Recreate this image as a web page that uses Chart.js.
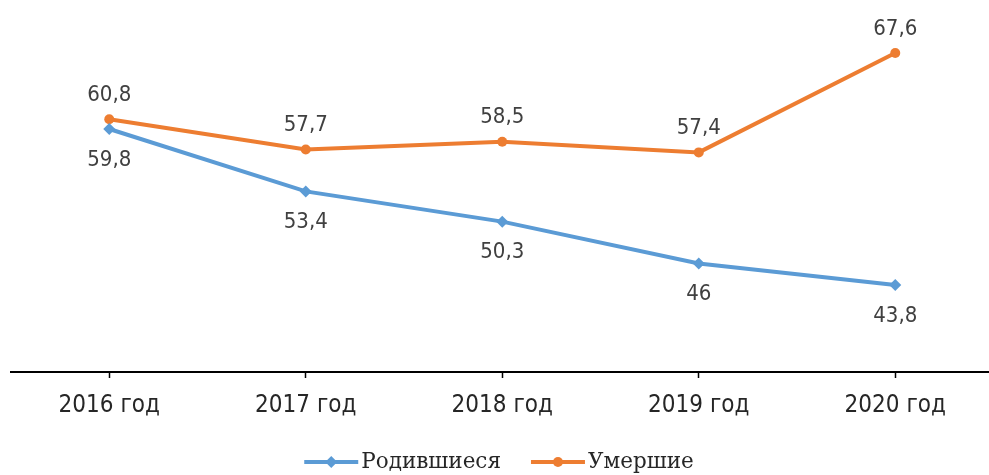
<!DOCTYPE html>
<html><head><meta charset="utf-8">
<script src="https://cdn.jsdelivr.net/npm/chart.js@4.4.0/dist/chart.umd.min.js"></script>
<style>html,body{margin:0;padding:0;background:#fff;overflow:hidden}#wrap{width:989px;height:475px;position:relative;overflow:hidden}</style>
</head><body><div id="wrap"><canvas id="c" width="1000" height="475"></canvas></div>
<script>
const categories = ['2016 год','2017 год','2018 год','2019 год','2020 год'];
const births = [59.8, 53.4, 50.3, 46, 43.8];
const deaths = [60.8, 57.7, 58.5, 57.4, 67.6];
const seriesNames = ['Родившиеся', 'Умершие'];
const BLUE = '#5B9BD5', ORANGE = '#ED7D31';
const SANS = '"DejaVu Sans Condensed","DejaVu Sans",sans-serif';
const fmt = v => String(v).replace('.', ',');

function drawMarker(ctx, style, r, x, y) {
  ctx.beginPath();
  if (style === 'rectRot') {
    ctx.moveTo(x, y - r); ctx.lineTo(x + r, y); ctx.lineTo(x, y + r); ctx.lineTo(x - r, y); ctx.closePath();
  } else {
    ctx.arc(x, y, r, 0, Math.PI * 2);
  }
  ctx.fill();
}

const labelPlugin = {
  id: 'valueLabels',
  afterDatasetsDraw(chart) {
    const ctx = chart.ctx;
    ctx.save();
    ctx.font = '22px ' + SANS;
    ctx.fillStyle = '#404040'; ctx.textAlign = 'center'; ctx.textBaseline = 'middle';
    chart.data.datasets.forEach((ds, i) => {
      const meta = chart.getDatasetMeta(i);
      meta.data.forEach((pt, j) => {
        const dy = i === 0 ? 31 : -24;
        ctx.fillText(fmt(ds.data[j]), pt.x, pt.y + dy);
      });
    });
    ctx.restore();
  }
};

const legendPlugin = {
  id: 'lineLegend',
  afterDraw(chart) {
    const ctx = chart.ctx;
    ctx.save();
    ctx.font = '21.5px "DejaVu Serif",serif';
    const sampleW = 54, gap = 3, itemGap = 30;
    const items = chart.data.datasets.map(ds => ({ ds, w: ctx.measureText(ds.label).width }));
    const total = items.reduce((s, it) => s + sampleW + gap + it.w, 0) + itemGap * (items.length - 1);
    let x = 499 - total / 2;
    const y = chart.height - 13;
    items.forEach(it => {
      ctx.strokeStyle = it.ds.borderColor; ctx.fillStyle = it.ds.borderColor; ctx.lineWidth = 4;
      ctx.beginPath(); ctx.moveTo(x, y); ctx.lineTo(x + sampleW, y); ctx.stroke();
      drawMarker(ctx, it.ds.pointStyle, it.ds.pointRadius, x + sampleW / 2, y);
      ctx.fillStyle = '#262626'; ctx.textAlign = 'left'; ctx.textBaseline = 'middle';
      ctx.fillText(it.ds.label, x + sampleW + gap, y);
      x += sampleW + gap + it.w + itemGap;
    });
    ctx.restore();
  }
};

new Chart(document.getElementById('c'), {
  type: 'line',
  data: {
    labels: categories,
    datasets: [
      { label: seriesNames[0], data: births, borderColor: BLUE, backgroundColor: BLUE, borderWidth: 4,
        pointStyle: 'rectRot', pointRadius: 6, pointBorderWidth: 0, tension: 0, clip: false },
      { label: seriesNames[1], data: deaths, borderColor: ORANGE, backgroundColor: ORANGE, borderWidth: 4,
        pointStyle: 'circle', pointRadius: 5, pointBorderWidth: 0, tension: 0, clip: false }
    ]
  },
  options: {
    responsive: false, animation: false,
    layout: { autoPadding: false, padding: { left: 11, right: 6.5, top: 0, bottom: 30 } },
    plugins: { legend: { display: false }, tooltip: { enabled: false } },
    scales: {
      x: {
        offset: true,
        grid: { display: true, drawOnChartArea: false, drawTicks: true, offset: false, tickLength: 6, tickWidth: 1.5, tickColor: '#000' },
        border: { display: true, color: '#000', width: 2 },
        ticks: { font: { family: SANS, size: 24 }, color: '#262626', padding: 13, maxRotation: 0 },
        afterFit(s) { s.height = 73; }
      },
      y: { display: false, min: 34.88, max: 73.03 }
    }
  },
  plugins: [labelPlugin, legendPlugin]
});
</script>
</body></html>
